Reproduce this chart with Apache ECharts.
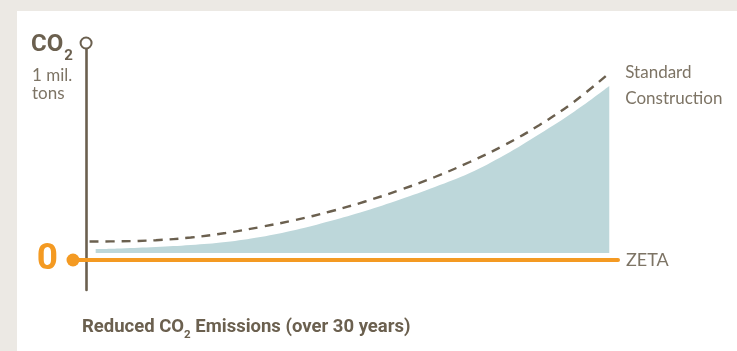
<!DOCTYPE html>
<html>
<head>
<meta charset="utf-8">
<script src="https://cdn.jsdelivr.net/npm/echarts@6/dist/echarts.min.js"></script>
<style>
  html, body { margin: 0; padding: 0; background: #ece9e4; }
  #panel { position: absolute; left: 17px; top: 11px; width: 720px; height: 340px; background: #ffffff; }
  #chart { position: absolute; left: 0; top: 0; width: 737px; height: 351px; }
</style>
</head>
<body>
<div id="panel"></div>
<div id="chart"></div>
<script>
// Years since construction (0–30)
const standardYears = [0.2, 2, 4, 6, 8, 10, 12, 14, 16, 18, 20, 22, 24, 26, 28, 30];
// Cumulative CO2, standard construction (arbitrary units)
const standardValues = [1.85, 1.87, 1.98, 2.25, 2.7, 3.3, 4.0, 4.85, 5.85, 7.0, 8.3, 9.8, 11.5, 13.5, 15.85, 18.7];
// Reduced emissions area (upper edge)
const reducedYears = [0.55, 2, 4, 6, 8, 10, 12, 14, 16, 18, 20, 22, 24, 26, 28, 30];
const reducedValues = [1.1, 1.16, 1.3, 1.5, 1.8, 2.3, 3.0, 3.9, 4.9, 6.05, 7.3, 8.7, 10.5, 12.6, 14.85, 17.4];
const reducedBase = 0.7;
// Labels
const standardLabel = 'Standard\nConstruction';
const zetaLabel = 'ZETA';
const zeroTick = [0];

const brown = '#6b604f';
const grey = '#7d7465';
const orange = '#f49a22';
const fill = '#bdd7da';

const chart = echarts.init(document.getElementById('chart'), null, { renderer: 'canvas' });
chart.setOption({
  animation: false,
  backgroundColor: 'transparent',
  title: [
    {
      text: '{a|CO}{b|2}',
      left: 31, top: 33, padding: 0,
      textStyle: {
        rich: {
          a: { fontFamily: 'Roboto', fontWeight: 'bold', fontSize: 24, lineHeight: 30, color: brown, verticalAlign: 'top' },
          b: { fontFamily: 'Roboto', fontWeight: 'bold', fontSize: 15, lineHeight: 12, padding: [16, 0, 0, 1], color: brown, verticalAlign: 'top' }
        }
      }
    },
    {
      text: '1 mil.\ntons',
      left: 32, top: 66, padding: 0,
      textStyle: { fontFamily: 'Lato', fontWeight: 'normal', fontSize: 17, lineHeight: 18.5, color: grey }
    },
    {
      text: '{a|Reduced CO}{b|2}{a| Emissions (over 30 years)}',
      left: 82, top: 317.5, padding: 0,
      textStyle: {
        rich: {
          a: { fontFamily: 'Roboto', fontWeight: 'bold', fontSize: 18.5, lineHeight: 22, color: brown, verticalAlign: 'top' },
          b: { fontFamily: 'Roboto', fontWeight: 'bold', fontSize: 11.5, lineHeight: 10, padding: [12, 0, 0, 0], color: brown, verticalAlign: 'top' }
        }
      }
    }
  ],
  grid: { left: 73, right: 119, top: 43, bottom: 61, outerBoundsMode: 'none', containLabel: false },
  xAxis: {
    type: 'value', min: -0.75, max: 30.5,
    name: zetaLabel, nameLocation: 'end', nameGap: 8,
    nameTextStyle: { fontFamily: 'Lato', fontSize: 18, color: grey, verticalAlign: 'middle', padding: [0, 0, 6, 0] },
    axisLine: { show: true, onZero: true, symbol: ['circle', 'none'], symbolSize: [13, 13], lineStyle: { color: orange, width: 4 } },
    axisTick: { show: false }, axisLabel: { show: false }, splitLine: { show: false }
  },
  yAxis: {
    type: 'value', min: -3, max: 21.7, interval: 3,
    axisLine: { show: true, onZero: true, symbol: ['none', 'emptyCircle'], symbolSize: [11, 11], lineStyle: { color: brown, width: 2.6 } },
    axisTick: { show: false }, splitLine: { show: false },
    axisLabel: {
      show: true, margin: 15,
      formatter: v => (zeroTick.indexOf(v) >= 0 ? String(v) : ''),
      fontFamily: 'Roboto', fontWeight: 'bold', fontSize: 37, color: orange,
      padding: [0, 0, 15, 0]
    }
  },
  series: [
    {
      name: 'Reduced',
      type: 'line', smooth: 0.4, showSymbol: false, silent: true,
      data: reducedYears.map((x, i) => [x, reducedValues[i]]),
      lineStyle: { width: 0 },
      areaStyle: { color: fill, opacity: 1, origin: reducedBase },
      z: 1
    },
    {
      name: 'Standard',
      type: 'line', smooth: 0.4, showSymbol: false, silent: true,
      data: standardYears.map((x, i) => [x, standardValues[i]]),
      lineStyle: { color: brown, width: 2.4, type: [9, 7] },
      endLabel: {
        show: true, formatter: standardLabel, distance: 16, offset: [0, 13],
        fontFamily: 'Lato', fontSize: 17, lineHeight: 26, color: grey, align: 'left'
      },
      z: 2
    }
  ]
});
</script>
</body>
</html>
